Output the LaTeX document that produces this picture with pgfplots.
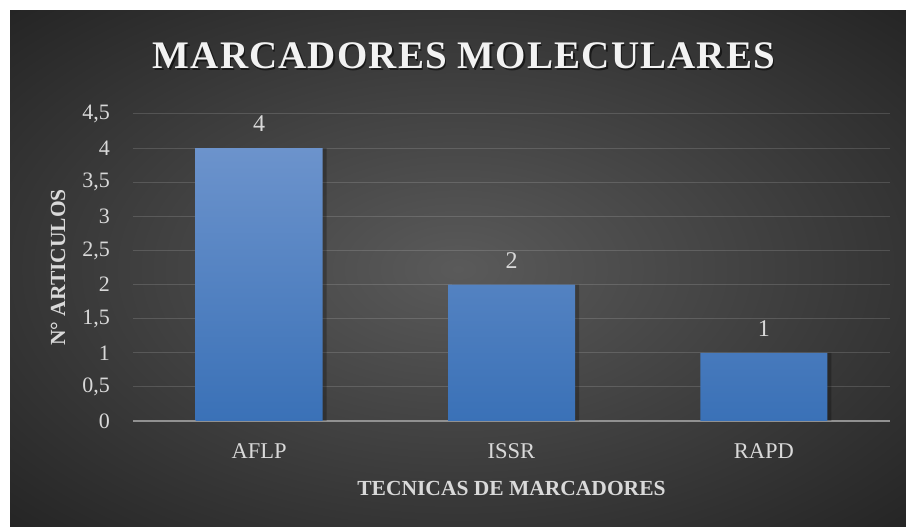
\documentclass[border=0pt]{standalone}
\usepackage{pgfplots}
\pgfplotsset{compat=1.18}
\usepackage{fontspec}
\setmainfont{Liberation Serif}
\newfontfamily\titlefont[LetterSpace=3]{Liberation Serif}
\definecolor{bgc}{RGB}{90,90,90}
\definecolor{bgo}{RGB}{36,36,36}
\definecolor{barT}{RGB}{108,147,204}
\definecolor{barB}{RGB}{58,113,183}
\definecolor{txt}{RGB}{217,217,217}
\definecolor{ttl}{RGB}{242,242,242}
\definecolor{axl}{RGB}{145,145,145}
\pgfdeclareradialshading{bgshade}{\pgfpoint{0bp}{0bp}}{color(0bp)=(bgc); color(36bp)=(bgo); color(50bp)=(bgo)}
\pgfplotstableread{
x y
0 4
1 2
2 1
}\datatable
\begin{document}
\begin{tikzpicture}[x=1pt,y=1pt]
\fill[white] (0,0) rectangle (906,527);
\shade[shading=bgshade] (10,0) rectangle (906,516);
\begin{axis}[
  at={(133pt,106pt)}, anchor=south west, scale only axis,
  width=757pt, height=307pt,
  xmin=-0.5, xmax=2.5, ymin=0, ymax=4.5,
  axis x line*=bottom, axis y line*=left,
  x axis line style={-, axl, line width=2pt},
  y axis line style={draw=none},
  major tick length=0pt,
  xtick={0,1,2}, xticklabels={AFLP,ISSR,RAPD},
  ytick={0,0.5,1,1.5,2,2.5,3,3.5,4,4.5},
  /pgf/number format/assume math mode=true,
  /pgf/number format/use comma,
  ymajorgrids,
  grid style={white, opacity=0.14, line width=1pt},
  yticklabel style={font=\fontsize{22}{24}\selectfont, text=txt, inner sep=0pt, xshift=-23pt},
  xticklabel style={font=\fontsize{22.5}{25}\selectfont, text=txt, inner sep=0pt, anchor=north, yshift=-22pt},
  xlabel={TECNICAS DE MARCADORES},
  xlabel style={at={(axis description cs:0.5,0)}, anchor=center, yshift=-67pt, font=\bfseries\fontsize{21.5}{24}\selectfont, text=txt},
  ylabel={N° ARTICULOS},
  ylabel style={at={(axis description cs:0,0.5)}, anchor=center, yshift=75pt, font=\bfseries\fontsize{21.5}{24}\selectfont, text=txt},
]
\addplot[ybar, bar width=127pt, bar shift=4pt, fill=black, opacity=0.25, draw=none] table[x=x,y=y] {\datatable};
\addplot[ybar, bar width=127pt, bar shift=0pt, draw=none, top color=barT, bottom color=barB,
  nodes near coords,
  nodes near coords style={font=\fontsize{24}{26}\selectfont, text=txt, inner sep=0pt, yshift=16pt}] table[x=x,y=y] {\datatable};
\end{axis}
\node[text=black, opacity=0.55, font=\titlefont\bfseries\fontsize{39}{42}\selectfont] at (465.5,469.5) {MARCADORES MOLECULARES};
\node[text=ttl, font=\titlefont\bfseries\fontsize{39}{42}\selectfont] at (464,471) {MARCADORES MOLECULARES};
\end{tikzpicture}
\end{document}
